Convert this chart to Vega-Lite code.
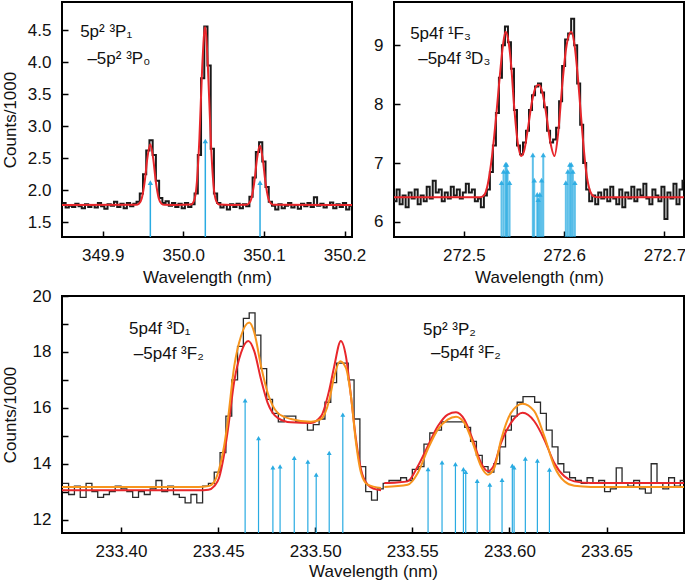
{
  "$schema": "https://vega.github.io/schema/vega-lite/v6.json",
  "padding": {"left": 0, "top": 1, "right": 0, "bottom": 0},
  "spacing": 0,
  "config": {
    "view": {"stroke": "#000", "strokeWidth": 2},
    "axis": {"labelFont": "Liberation Sans", "titleFont": "Liberation Sans", "labelFontSize": 17, "titleFontSize": 17, "titleFontWeight": "normal", "labelColor": "#111", "titleColor": "#111", "domain": false, "grid": false, "tickSize": -6, "tickColor": "#000", "tickWidth": 1.5},
    "axisX": {"labelPadding": 16, "titlePadding": 6},
    "axisY": {"labelPadding": 17, "titlePadding": 8},
    "text": {"font": "Liberation Sans", "fontSize": 17, "color": "#111"}
  },
  "datasets": {
    "tlHist": [
      {"x":349.850,"y":1.80},{"x":349.854,"y":1.73},{"x":349.858,"y":1.76},{"x":349.862,"y":1.74},{"x":349.866,"y":1.79},{"x":349.870,"y":1.75},{"x":349.874,"y":1.72},{"x":349.878,"y":1.78},{"x":349.882,"y":1.74},{"x":349.886,"y":1.77},{"x":349.890,"y":1.73},{"x":349.894,"y":1.80},{"x":349.898,"y":1.75},{"x":349.902,"y":1.71},{"x":349.906,"y":1.78},{"x":349.910,"y":1.76},{"x":349.914,"y":1.82},{"x":349.918,"y":1.74},{"x":349.922,"y":1.79},{"x":349.926,"y":1.72},{"x":349.930,"y":1.80},{"x":349.934,"y":1.75},{"x":349.938,"y":1.79},{"x":349.942,"y":1.82},{"x":349.946,"y":1.95},{"x":349.950,"y":2.25},{"x":349.954,"y":2.62},{"x":349.958,"y":2.78},{"x":349.962,"y":2.55},{"x":349.966,"y":2.15},{"x":349.970,"y":1.88},{"x":349.974,"y":1.80},{"x":349.978,"y":1.83},{"x":349.982,"y":1.76},{"x":349.986,"y":1.80},{"x":349.990,"y":1.74},{"x":349.994,"y":1.79},{"x":349.998,"y":1.72},{"x":350.002,"y":1.80},{"x":350.006,"y":1.74},{"x":350.010,"y":1.78},{"x":350.014,"y":1.95},{"x":350.018,"y":2.55},{"x":350.022,"y":3.75},{"x":350.026,"y":4.56},{"x":350.030,"y":3.95},{"x":350.034,"y":2.65},{"x":350.038,"y":1.95},{"x":350.042,"y":1.80},{"x":350.046,"y":1.73},{"x":350.050,"y":1.77},{"x":350.054,"y":1.70},{"x":350.058,"y":1.78},{"x":350.062,"y":1.74},{"x":350.066,"y":1.79},{"x":350.070,"y":1.72},{"x":350.074,"y":1.78},{"x":350.078,"y":1.75},{"x":350.082,"y":1.90},{"x":350.086,"y":2.20},{"x":350.090,"y":2.60},{"x":350.094,"y":2.75},{"x":350.098,"y":2.45},{"x":350.102,"y":2.05},{"x":350.106,"y":1.82},{"x":350.110,"y":1.76},{"x":350.114,"y":1.70},{"x":350.118,"y":1.78},{"x":350.122,"y":1.72},{"x":350.126,"y":1.76},{"x":350.130,"y":1.80},{"x":350.134,"y":1.73},{"x":350.138,"y":1.77},{"x":350.142,"y":1.71},{"x":350.146,"y":1.79},{"x":350.150,"y":1.75},{"x":350.154,"y":1.80},{"x":350.158,"y":1.74},{"x":350.162,"y":1.89},{"x":350.166,"y":1.76},{"x":350.170,"y":1.79},{"x":350.174,"y":1.73},{"x":350.178,"y":1.77},{"x":350.182,"y":1.81},{"x":350.186,"y":1.72},{"x":350.190,"y":1.78},{"x":350.194,"y":1.74},{"x":350.198,"y":1.80},{"x":350.202,"y":1.70},{"x":350.206,"y":1.76},{"x":350.210,"y":1.76}
    ],
    "tlFit": [
      {"x":349.849,"y":1.77},{"x":349.9415,"y":1.772},{"x":349.945,"y":1.789},{"x":349.9485,"y":1.875},{"x":349.952,"y":2.126},{"x":349.9555,"y":2.511},{"x":349.959,"y":2.72},{"x":349.9625,"y":2.511},{"x":349.966,"y":2.126},{"x":349.9695,"y":1.875},{"x":349.973,"y":1.789},{"x":349.9765,"y":1.772},{"x":349.990,"y":1.77},
      {"x":350.0095,"y":1.776},{"x":350.013,"y":1.826},{"x":350.0165,"y":2.076},{"x":350.020,"y":2.813},{"x":350.0235,"y":3.938},{"x":350.027,"y":4.55},{"x":350.0305,"y":3.938},{"x":350.034,"y":2.813},{"x":350.0375,"y":2.076},{"x":350.041,"y":1.826},{"x":350.0445,"y":1.776},{"x":350.060,"y":1.77},
      {"x":350.0775,"y":1.772},{"x":350.081,"y":1.789},{"x":350.0845,"y":1.872},{"x":350.088,"y":2.119},{"x":350.0915,"y":2.495},{"x":350.095,"y":2.70},{"x":350.0985,"y":2.495},{"x":350.102,"y":2.119},{"x":350.1055,"y":1.872},{"x":350.109,"y":1.789},{"x":350.1125,"y":1.772},{"x":350.210,"y":1.77}
    ],
    "tlArrows": [{"x":349.9591,"y":2.12},{"x":350.0273,"y":2.77},{"x":350.0952,"y":2.12}],
    "tlText": [{"x":349.872,"y":4.47,"t":"5p² ³P₁"},{"x":349.881,"y":4.05,"t":"–5p² ³P₀"}],
    "trHist": [
      {"x":272.430,"y":6.35},{"x":272.433,"y":6.55},{"x":272.436,"y":6.30},{"x":272.439,"y":6.45},{"x":272.442,"y":6.25},{"x":272.445,"y":6.50},{"x":272.448,"y":6.40},{"x":272.451,"y":6.55},{"x":272.454,"y":6.30},{"x":272.457,"y":6.45},{"x":272.460,"y":6.35},{"x":272.463,"y":6.60},{"x":272.466,"y":6.40},{"x":272.469,"y":6.70},{"x":272.472,"y":6.50},{"x":272.475,"y":6.55},{"x":272.478,"y":6.35},{"x":272.481,"y":6.50},{"x":272.484,"y":6.40},{"x":272.487,"y":6.60},{"x":272.490,"y":6.45},{"x":272.493,"y":6.55},{"x":272.496,"y":6.40},{"x":272.499,"y":6.50},{"x":272.502,"y":6.65},{"x":272.505,"y":6.50},{"x":272.508,"y":6.55},{"x":272.511,"y":6.35},{"x":272.514,"y":6.40},{"x":272.517,"y":6.25},{"x":272.520,"y":6.45},{"x":272.523,"y":6.55},{"x":272.526,"y":6.85},{"x":272.529,"y":7.30},{"x":272.532,"y":7.85},{"x":272.535,"y":8.45},{"x":272.538,"y":9.00},{"x":272.541,"y":9.32},{"x":272.544,"y":9.05},{"x":272.547,"y":8.60},{"x":272.550,"y":7.90},{"x":272.553,"y":7.30},{"x":272.556,"y":7.15},{"x":272.559,"y":7.35},{"x":272.562,"y":7.55},{"x":272.565,"y":7.90},{"x":272.568,"y":8.15},{"x":272.571,"y":8.30},{"x":272.574,"y":8.35},{"x":272.577,"y":8.20},{"x":272.580,"y":7.95},{"x":272.583,"y":7.55},{"x":272.586,"y":7.35},{"x":272.589,"y":7.40},{"x":272.592,"y":7.60},{"x":272.595,"y":8.05},{"x":272.598,"y":8.65},{"x":272.601,"y":9.10},{"x":272.604,"y":9.20},{"x":272.607,"y":9.45},{"x":272.610,"y":9.00},{"x":272.613,"y":8.35},{"x":272.616,"y":7.65},{"x":272.619,"y":7.00},{"x":272.622,"y":6.55},{"x":272.625,"y":6.35},{"x":272.628,"y":6.45},{"x":272.631,"y":6.30},{"x":272.634,"y":6.50},{"x":272.637,"y":6.40},{"x":272.640,"y":6.55},{"x":272.643,"y":6.35},{"x":272.646,"y":6.60},{"x":272.649,"y":6.40},{"x":272.652,"y":6.30},{"x":272.655,"y":6.55},{"x":272.658,"y":6.25},{"x":272.661,"y":6.50},{"x":272.664,"y":6.40},{"x":272.667,"y":6.60},{"x":272.670,"y":6.35},{"x":272.673,"y":6.55},{"x":272.676,"y":6.45},{"x":272.679,"y":6.65},{"x":272.682,"y":6.40},{"x":272.685,"y":6.30},{"x":272.688,"y":6.55},{"x":272.691,"y":6.45},{"x":272.694,"y":6.35},{"x":272.697,"y":6.60},{"x":272.700,"y":6.05},{"x":272.703,"y":6.50},{"x":272.706,"y":6.40},{"x":272.709,"y":6.65},{"x":272.712,"y":6.30},{"x":272.715,"y":6.55},{"x":272.718,"y":6.70},{"x":272.721,"y":6.70}
    ],
    "trFit": [
      {"x":272.430,"y":6.42},{"x":272.516,"y":6.42},{"x":272.520,"y":6.45},{"x":272.524,"y":6.65},{"x":272.528,"y":7.1},{"x":272.532,"y":7.75},{"x":272.536,"y":8.5},{"x":272.539,"y":9.0},{"x":272.5416,"y":9.23},{"x":272.544,"y":9.12},{"x":272.547,"y":8.7},{"x":272.550,"y":8.0},{"x":272.553,"y":7.45},{"x":272.5572,"y":7.12},{"x":272.560,"y":7.2},{"x":272.564,"y":7.6},{"x":272.568,"y":8.05},{"x":272.572,"y":8.3},{"x":272.5748,"y":8.33},{"x":272.578,"y":8.22},{"x":272.582,"y":7.85},{"x":272.586,"y":7.38},{"x":272.5904,"y":7.12},{"x":272.594,"y":7.5},{"x":272.598,"y":8.3},{"x":272.602,"y":8.95},{"x":272.6071,"y":9.23},{"x":272.610,"y":9.05},{"x":272.614,"y":8.4},{"x":272.618,"y":7.55},{"x":272.622,"y":6.85},{"x":272.626,"y":6.52},{"x":272.630,"y":6.43},{"x":272.634,"y":6.42},{"x":272.721,"y":6.42}
    ],
    "trArrows": [
      {"x":272.5376,"y":6.67},{"x":272.5396,"y":6.86},{"x":272.5416,"y":6.98},{"x":272.5426,"y":6.98},{"x":272.5436,"y":6.86},{"x":272.5456,"y":6.67},
      {"x":272.5688,"y":7.14},{"x":272.5702,"y":6.71},{"x":272.5732,"y":6.47},{"x":272.5742,"y":6.38},{"x":272.5758,"y":6.47},{"x":272.5775,"y":6.71},{"x":272.5792,"y":7.14},
      {"x":272.6017,"y":6.67},{"x":272.6037,"y":6.86},{"x":272.6057,"y":6.98},{"x":272.6071,"y":6.98},{"x":272.6087,"y":6.86},{"x":272.6107,"y":6.67}
    ],
    "trText": [{"x":272.4465,"y":9.19,"t":"5p4f ¹F₃"},{"x":272.4545,"y":8.76,"t":"–5p4f ³D₃"}],
    "bHist": [
      {"x":233.370,"y":13.3},{"x":233.373,"y":12.9},{"x":233.376,"y":13.2},{"x":233.379,"y":12.8},{"x":233.382,"y":13.3},{"x":233.385,"y":13.0},{"x":233.388,"y":12.8},{"x":233.391,"y":12.9},{"x":233.394,"y":13.0},{"x":233.397,"y":13.2},{"x":233.400,"y":13.1},{"x":233.403,"y":13.0},{"x":233.406,"y":12.8},{"x":233.409,"y":13.0},{"x":233.412,"y":12.9},{"x":233.415,"y":13.1},{"x":233.418,"y":13.4},{"x":233.421,"y":13.0},{"x":233.424,"y":13.2},{"x":233.427,"y":12.9},{"x":233.430,"y":12.8},{"x":233.433,"y":12.6},{"x":233.436,"y":12.9},{"x":233.439,"y":12.6},{"x":233.442,"y":13.2},{"x":233.445,"y":13.3},{"x":233.448,"y":13.7},{"x":233.451,"y":14.4},{"x":233.454,"y":15.7},{"x":233.457,"y":17.0},{"x":233.460,"y":18.2},{"x":233.463,"y":19.2},{"x":233.466,"y":19.4},{"x":233.469,"y":18.6},{"x":233.472,"y":17.4},{"x":233.475,"y":16.3},{"x":233.478,"y":15.8},{"x":233.481,"y":15.5},{"x":233.484,"y":15.7},{"x":233.487,"y":15.7},{"x":233.490,"y":15.5},{"x":233.493,"y":15.5},{"x":233.496,"y":15.2},{"x":233.499,"y":15.4},{"x":233.502,"y":15.6},{"x":233.505,"y":16.2},{"x":233.508,"y":16.9},{"x":233.511,"y":17.6},{"x":233.514,"y":17.6},{"x":233.517,"y":17.0},{"x":233.520,"y":15.6},{"x":233.523,"y":13.9},{"x":233.526,"y":13.0},{"x":233.529,"y":12.7},{"x":233.532,"y":13.1},{"x":233.535,"y":13.3},{"x":233.538,"y":13.4},{"x":233.541,"y":13.4},{"x":233.544,"y":13.5},{"x":233.547,"y":13.4},{"x":233.550,"y":13.8},{"x":233.553,"y":13.9},{"x":233.556,"y":14.7},{"x":233.559,"y":15.1},{"x":233.562,"y":15.2},{"x":233.565,"y":15.5},{"x":233.568,"y":15.5},{"x":233.571,"y":15.5},{"x":233.574,"y":15.5},{"x":233.577,"y":15.3},{"x":233.580,"y":14.8},{"x":233.583,"y":14.3},{"x":233.586,"y":13.9},{"x":233.589,"y":13.7},{"x":233.592,"y":14.0},{"x":233.595,"y":14.6},{"x":233.598,"y":15.2},{"x":233.601,"y":15.7},{"x":233.604,"y":16.2},{"x":233.607,"y":16.4},{"x":233.610,"y":16.4},{"x":233.613,"y":16.2},{"x":233.616,"y":15.8},{"x":233.619,"y":15.2},{"x":233.622,"y":14.6},{"x":233.625,"y":14.0},{"x":233.628,"y":13.7},{"x":233.631,"y":13.5},{"x":233.634,"y":13.4},{"x":233.637,"y":13.3},{"x":233.640,"y":13.5},{"x":233.643,"y":13.3},{"x":233.646,"y":13.4},{"x":233.649,"y":13.0},{"x":233.652,"y":13.1},{"x":233.655,"y":13.85},{"x":233.658,"y":13.3},{"x":233.661,"y":13.2},{"x":233.664,"y":13.4},{"x":233.667,"y":13.1},{"x":233.670,"y":12.95},{"x":233.673,"y":14.0},{"x":233.676,"y":13.3},{"x":233.679,"y":13.1},{"x":233.682,"y":13.5},{"x":233.685,"y":13.2},{"x":233.688,"y":13.4},{"x":233.691,"y":13.4}
    ],
    "bFits": [
      {"model":"fit1","region":"L","x":233.3696,"y":13.05},{"model":"fit1","region":"L","x":233.440,"y":13.05},{"model":"fit1","region":"L","x":233.445,"y":13.07},{"model":"fit1","region":"L","x":233.448,"y":13.2},{"model":"fit1","region":"L","x":233.4505,"y":13.5},{"model":"fit1","region":"L","x":233.453,"y":14.3},{"model":"fit1","region":"L","x":233.455,"y":15.2},{"model":"fit1","region":"L","x":233.4583,"y":16.95},{"model":"fit1","region":"L","x":233.4618,"y":17.97},{"model":"fit1","region":"L","x":233.4655,"y":18.39},{"model":"fit1","region":"L","x":233.4686,"y":18.03},{"model":"fit1","region":"L","x":233.4721,"y":17.01},{"model":"fit1","region":"L","x":233.4755,"y":16.18},{"model":"fit1","region":"L","x":233.4807,"y":15.64},{"model":"fit1","region":"L","x":233.4875,"y":15.48},{"model":"fit1","region":"L","x":233.4978,"y":15.46},{"model":"fit1","region":"L","x":233.503,"y":15.7},{"model":"fit1","region":"L","x":233.5073,"y":16.66},{"model":"fit1","region":"L","x":233.5098,"y":17.49},{"model":"fit1","region":"L","x":233.5132,"y":18.39},{"model":"fit1","region":"L","x":233.5158,"y":17.85},{"model":"fit1","region":"L","x":233.5184,"y":16.42},{"model":"fit1","region":"L","x":233.521,"y":14.86},{"model":"fit1","region":"L","x":233.5236,"y":13.79},{"model":"fit1","region":"L","x":233.527,"y":13.25},{"model":"fit1","region":"L","x":233.5305,"y":13.1},{"model":"fit1","region":"L","x":233.5339,"y":13.05},
      {"model":"fit1","region":"R","x":233.5356,"y":13.31},{"model":"fit1","region":"R","x":233.542,"y":13.33},{"model":"fit1","region":"R","x":233.5476,"y":13.37},{"model":"fit1","region":"R","x":233.5528,"y":13.91},{"model":"fit1","region":"R","x":233.5579,"y":14.62},{"model":"fit1","region":"R","x":233.5631,"y":15.34},{"model":"fit1","region":"R","x":233.5682,"y":15.76},{"model":"fit1","region":"R","x":233.5725,"y":15.84},{"model":"fit1","region":"R","x":233.5768,"y":15.58},{"model":"fit1","region":"R","x":233.5811,"y":14.86},{"model":"fit1","region":"R","x":233.5854,"y":14.03},{"model":"fit1","region":"R","x":233.5888,"y":13.73},{"model":"fit1","region":"R","x":233.5922,"y":13.97},{"model":"fit1","region":"R","x":233.5957,"y":14.75},{"model":"fit1","region":"R","x":233.6008,"y":15.46},{"model":"fit1","region":"R","x":233.6068,"y":15.82},{"model":"fit1","region":"R","x":233.6128,"y":15.52},{"model":"fit1","region":"R","x":233.618,"y":14.86},{"model":"fit1","region":"R","x":233.6231,"y":14.03},{"model":"fit1","region":"R","x":233.6283,"y":13.55},{"model":"fit1","region":"R","x":233.6334,"y":13.37},{"model":"fit1","region":"R","x":233.642,"y":13.31},{"model":"fit1","region":"R","x":233.690,"y":13.31},
      {"model":"fit2","region":"L","x":233.3696,"y":13.17},{"model":"fit2","region":"L","x":233.440,"y":13.17},{"model":"fit2","region":"L","x":233.445,"y":13.2},{"model":"fit2","region":"L","x":233.448,"y":13.35},{"model":"fit2","region":"L","x":233.4505,"y":13.8},{"model":"fit2","region":"L","x":233.453,"y":14.6},{"model":"fit2","region":"L","x":233.4549,"y":15.5},{"model":"fit2","region":"L","x":233.4583,"y":17.49},{"model":"fit2","region":"L","x":233.4618,"y":18.57},{"model":"fit2","region":"L","x":233.466,"y":19.05},{"model":"fit2","region":"L","x":233.4686,"y":18.7},{"model":"fit2","region":"L","x":233.4721,"y":17.49},{"model":"fit2","region":"L","x":233.4755,"y":16.54},{"model":"fit2","region":"L","x":233.4807,"y":15.82},{"model":"fit2","region":"L","x":233.4875,"y":15.6},{"model":"fit2","region":"L","x":233.4978,"y":15.5},{"model":"fit2","region":"L","x":233.503,"y":15.6},{"model":"fit2","region":"L","x":233.5073,"y":16.3},{"model":"fit2","region":"L","x":233.5098,"y":17.13},{"model":"fit2","region":"L","x":233.5128,"y":17.67},{"model":"fit2","region":"L","x":233.5158,"y":17.43},{"model":"fit2","region":"L","x":233.5184,"y":16.42},{"model":"fit2","region":"L","x":233.521,"y":14.75},{"model":"fit2","region":"L","x":233.5236,"y":13.67},{"model":"fit2","region":"L","x":233.527,"y":13.25},{"model":"fit2","region":"L","x":233.5339,"y":13.13},
      {"model":"fit2","region":"R","x":233.5356,"y":13.17},{"model":"fit2","region":"R","x":233.5476,"y":13.25},{"model":"fit2","region":"R","x":233.5528,"y":13.67},{"model":"fit2","region":"R","x":233.5579,"y":14.51},{"model":"fit2","region":"R","x":233.5631,"y":15.22},{"model":"fit2","region":"R","x":233.5682,"y":15.58},{"model":"fit2","region":"R","x":233.5725,"y":15.68},{"model":"fit2","region":"R","x":233.5768,"y":15.46},{"model":"fit2","region":"R","x":233.5811,"y":14.75},{"model":"fit2","region":"R","x":233.5854,"y":13.91},{"model":"fit2","region":"R","x":233.5888,"y":13.61},{"model":"fit2","region":"R","x":233.5922,"y":13.85},{"model":"fit2","region":"R","x":233.5957,"y":14.86},{"model":"fit2","region":"R","x":233.6008,"y":15.82},{"model":"fit2","region":"R","x":233.6068,"y":16.15},{"model":"fit2","region":"R","x":233.6128,"y":15.88},{"model":"fit2","region":"R","x":233.618,"y":14.98},{"model":"fit2","region":"R","x":233.6231,"y":13.91},{"model":"fit2","region":"R","x":233.6283,"y":13.37},{"model":"fit2","region":"R","x":233.6334,"y":13.21},{"model":"fit2","region":"R","x":233.642,"y":13.17},{"model":"fit2","region":"R","x":233.690,"y":13.17}
    ],
    "bArrows": [
      {"x":233.4639,"y":16.27},{"x":233.4708,"y":14.92},{"x":233.4782,"y":13.87},{"x":233.4819,"y":13.91},{"x":233.4892,"y":14.21},{"x":233.4962,"y":14.08},{"x":233.5005,"y":13.61},{"x":233.5072,"y":14.39},{"x":233.5142,"y":15.76},
      {"x":233.5581,"y":13.81},{"x":233.5653,"y":14.05},{"x":233.5722,"y":13.99},{"x":233.5763,"y":13.81},{"x":233.5775,"y":13.71},{"x":233.5834,"y":13.39},{"x":233.5899,"y":13.25},{"x":233.5962,"y":13.42},{"x":233.6015,"y":13.93},{"x":233.6024,"y":13.87},{"x":233.6082,"y":14.18},{"x":233.6144,"y":14.11},{"x":233.6206,"y":13.79}
    ],
    "bText": [{"x":233.4041,"y":18.81,"t":"5p4f ³D₁"},{"x":233.4066,"y":17.91,"t":"–5p4f ³F₂"},{"x":233.5555,"y":18.77,"t":"5p² ³P₂"},{"x":233.5596,"y":17.95,"t":"–5p4f ³F₂"}]
  },
  "vconcat": [
    {
      "hconcat": [
        {
          "width": 290, "height": 235,
          "encoding": {
            "x": {"field": "x", "type": "quantitative", "scale": {"domain": [349.8495, 350.2093], "nice": false, "zero": false}, "axis": {"title": "Wavelength (nm)", "values": [349.9, 350.0, 350.1, 350.2], "format": ".1f"}},
            "y": {"field": "y", "type": "quantitative", "scale": {"domain": [1.27, 4.942], "nice": false, "zero": false}, "axis": {"title": "Counts/1000", "values": [1.5, 2.0, 2.5, 3.0, 3.5, 4.0, 4.5], "format": ".1f"}}
          },
          "layer": [
            {"data": {"name": "tlArrows"}, "mark": {"type": "rule", "color": "#29abe2", "strokeWidth": 1.5, "clip": true}, "encoding": {"y2": {"datum": 1.27}}},
            {"data": {"name": "tlArrows"}, "mark": {"type": "point", "shape": "triangle-up", "filled": true, "size": 28, "color": "#29abe2", "opacity": 1}, "encoding": {}},
            {"data": {"name": "tlHist"}, "mark": {"type": "line", "interpolate": "step-after", "color": "#1a1a1a", "strokeWidth": 2, "clip": true}, "encoding": {}},
            {"data": {"name": "tlFit"}, "mark": {"type": "line", "interpolate": "monotone", "color": "#e8262b", "strokeWidth": 2, "clip": true}, "encoding": {}},
            {"data": {"name": "tlText"}, "mark": {"type": "text", "align": "left", "baseline": "middle"}, "encoding": {"text": {"field": "t"}}}
          ]
        },
        {
          "width": 290, "height": 235,
          "encoding": {
            "x": {"field": "x", "type": "quantitative", "scale": {"domain": [272.4304, 272.7195], "nice": false, "zero": false}, "axis": {"title": "Wavelength (nm)", "values": [272.5, 272.6, 272.7], "format": ".1f"}},
            "y": {"field": "y", "type": "quantitative", "scale": {"domain": [5.745, 9.735], "nice": false, "zero": false}, "axis": {"title": null, "values": [6, 7, 8, 9]}}
          },
          "layer": [
            {"data": {"name": "trArrows"}, "mark": {"type": "rule", "color": "#29abe2", "strokeWidth": 2, "opacity": 0.75, "clip": true}, "encoding": {"y2": {"datum": 5.745}}},
            {"data": {"name": "trArrows"}, "mark": {"type": "point", "shape": "triangle-up", "filled": true, "size": 30, "color": "#29abe2", "opacity": 0.9}, "encoding": {}},
            {"data": {"name": "trHist"}, "mark": {"type": "line", "interpolate": "step-after", "color": "#1a1a1a", "strokeWidth": 2, "clip": true}, "encoding": {}},
            {"data": {"name": "trFit"}, "mark": {"type": "line", "interpolate": "monotone", "color": "#e8262b", "strokeWidth": 2, "clip": true}, "encoding": {}},
            {"data": {"name": "trText"}, "mark": {"type": "text", "align": "left", "baseline": "middle"}, "encoding": {"text": {"field": "t"}}}
          ]
        }
      ],
      "spacing": 42,
      "bounds": "flush"
    },
    {
      "width": 622, "height": 237,
      "encoding": {
        "x": {"field": "x", "type": "quantitative", "scale": {"domain": [233.3696, 233.6899], "nice": false, "zero": false}, "axis": {"title": "Wavelength (nm)", "values": [233.40, 233.45, 233.50, 233.55, 233.60, 233.65], "format": ".2f", "titlePadding": 4}},
        "y": {"field": "y", "type": "quantitative", "scale": {"domain": [11.523, 20.0], "nice": false, "zero": false}, "axis": {"title": "Counts/1000", "values": [12, 13, 14, 15, 16, 17, 18, 19, 20], "labelExpr": "datum.value % 2 == 0 ? datum.label : ''", "titlePadding": 13}}
      },
      "layer": [
        {"data": {"name": "bArrows"}, "mark": {"type": "rule", "color": "#29abe2", "strokeWidth": 1.2, "clip": true}, "encoding": {"y2": {"datum": 11.523}}},
        {"data": {"name": "bArrows"}, "mark": {"type": "point", "shape": "triangle-up", "filled": true, "size": 24, "color": "#29abe2", "opacity": 1}, "encoding": {}},
        {"data": {"name": "bHist"}, "mark": {"type": "line", "interpolate": "step-after", "color": "#2a2a2a", "strokeWidth": 1.3, "clip": true}, "encoding": {}},
        {"data": {"name": "bFits"}, "mark": {"type": "line", "interpolate": "monotone", "strokeWidth": 2, "clip": true}, "encoding": {"color": {"field": "model", "type": "nominal", "scale": {"domain": ["fit1", "fit2"], "range": ["#e8262b", "#f7941d"]}, "legend": null}, "detail": {"field": "region"}}},
        {"data": {"name": "bText"}, "mark": {"type": "text", "align": "left", "baseline": "middle"}, "encoding": {"text": {"field": "t"}}}
      ]
    }
  ]
}
